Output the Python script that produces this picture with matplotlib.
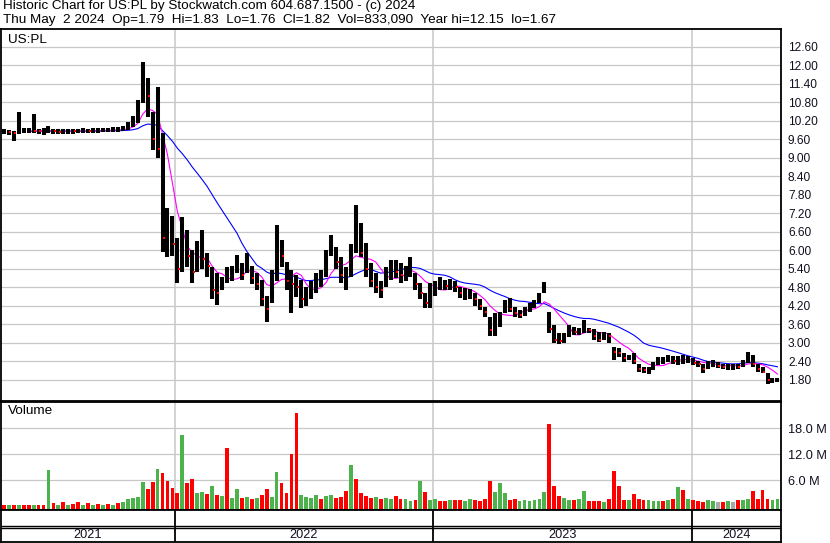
import matplotlib

matplotlib.use("Agg")
import matplotlib.pyplot as plt
import numpy as np
import pandas as pd

plt.rcParams["font.family"] = ["Liberation Sans", "DejaVu Sans"]

W, H = 830, 543

# weekly bars (mid-week dates) -- close / high / low in USD
close = [
    9.86, 9.84, 9.82, 9.86, 9.88, 9.90, 9.88, 9.86, 9.87, 9.88,
    9.86, 9.85, 9.86, 9.87, 9.86, 9.87, 9.88, 9.87, 9.88, 9.89,
    9.90, 9.90, 9.91, 9.92, 9.95, 10.05, 10.25, 10.60, 11.70, 11.00,
    9.60, 9.30, 6.40, 6.60, 6.20, 5.40, 6.30, 5.80, 5.30, 5.90,
    5.70, 5.50, 4.70, 4.60, 5.00, 5.20, 5.30, 5.60, 5.20, 5.60,
    5.10, 4.90, 4.40, 4.10, 4.90, 6.20, 5.80, 5.00, 4.90, 4.80,
    4.40, 4.50, 4.80, 5.00, 5.20, 5.80, 6.20, 5.60, 5.20, 5.30,
    6.00, 6.60, 5.90, 5.40, 5.00, 4.80, 4.70, 5.30, 5.40, 5.30,
    5.20, 5.40, 5.50, 4.90, 4.60, 4.30, 4.70, 4.90, 4.90, 4.85,
    4.90, 4.80, 4.60, 4.60, 4.60, 4.40, 4.20, 4.00, 3.40, 3.70,
    3.90, 4.20, 4.10, 3.95, 3.90, 4.10, 4.20, 4.30, 4.55, 4.90,
    3.45, 3.10, 3.05, 3.20, 3.40, 3.35, 3.40, 3.50, 3.40, 3.20,
    3.10, 3.30, 3.20, 2.70, 2.65, 2.50, 2.55, 2.40, 2.15, 2.10,
    2.10, 2.30, 2.45, 2.45, 2.50, 2.40, 2.45, 2.45, 2.45, 2.35,
    2.30, 2.15, 2.30, 2.35, 2.25, 2.20, 2.20, 2.25, 2.22, 2.40,
    2.55, 2.30, 2.15, 2.05, 1.78, 1.78, 1.82,
]
high = [
    9.92, 9.90, 9.88, 10.47, 9.95, 9.97, 10.42, 9.94, 9.95, 10.03,
    9.93, 9.92, 9.93, 9.94, 9.92, 9.93, 9.95, 9.93, 9.95, 9.96,
    9.97, 9.98, 9.99, 10.00, 10.02, 10.17, 10.34, 10.88, 12.12, 11.60,
    10.50, 11.31, 9.80, 7.37, 7.10, 6.40, 7.09, 6.66, 6.00, 6.30,
    6.66, 5.90, 5.46, 5.26, 5.13, 5.46, 5.50, 5.85, 5.59, 5.90,
    5.50, 5.26, 5.03, 4.50, 5.36, 6.82, 6.33, 5.60, 5.36, 5.20,
    5.03, 4.81, 5.00, 5.26, 5.36, 6.01, 6.50, 6.10, 5.78, 5.46,
    6.20, 7.47, 6.88, 6.23, 5.59, 5.26, 5.00, 5.46, 5.68, 5.68,
    5.59, 5.50, 5.78, 5.26, 4.94, 4.60, 4.94, 5.00, 5.13, 5.03,
    5.05, 5.00, 4.81, 4.78, 4.75, 4.61, 4.40, 4.16, 3.83, 3.96,
    4.00, 4.39, 4.45, 4.16, 4.06, 4.16, 4.30, 4.39, 4.60, 4.97,
    4.00, 3.58, 3.31, 3.31, 3.58, 3.51, 3.48, 3.74, 3.48, 3.45,
    3.35, 3.35, 3.31, 2.86, 2.83, 2.67, 2.60, 2.67, 2.30, 2.20,
    2.20, 2.38, 2.54, 2.54, 2.60, 2.55, 2.55, 2.60, 2.55, 2.49,
    2.40, 2.30, 2.40, 2.43, 2.38, 2.32, 2.32, 2.30, 2.32, 2.45,
    2.68, 2.60, 2.30, 2.20, 2.00, 1.86, 1.86,
]
low = [
    9.76, 9.74, 9.53, 9.78, 9.80, 9.82, 9.80, 9.78, 9.74, 9.80,
    9.76, 9.77, 9.78, 9.78, 9.77, 9.79, 9.80, 9.79, 9.80, 9.82,
    9.83, 9.83, 9.84, 9.85, 9.86, 9.90, 10.01, 10.13, 10.78, 10.33,
    9.25, 9.00, 5.95, 5.78, 5.80, 4.94, 5.30, 5.46, 4.94, 5.30,
    5.40, 5.13, 4.42, 4.23, 4.70, 4.94, 5.00, 5.26, 5.03, 5.26,
    4.90, 4.70, 4.20, 3.68, 4.30, 5.00, 5.46, 4.71, 3.96, 4.48,
    4.13, 4.20, 4.40, 4.60, 4.80, 5.13, 5.80, 5.40, 4.94, 4.71,
    5.13, 5.90, 5.78, 5.13, 4.81, 4.60, 4.45, 4.81, 5.03, 5.10,
    4.94, 5.00, 5.13, 4.71, 4.40, 4.13, 4.13, 4.50, 4.71, 4.70,
    4.72, 4.65, 4.45, 4.39, 4.40, 4.20, 4.06, 3.83, 3.22, 3.20,
    3.50, 3.96, 4.00, 3.83, 3.80, 3.85, 4.00, 4.13, 4.30, 4.60,
    3.31, 3.00, 2.96, 3.00, 3.18, 3.25, 3.25, 3.31, 3.31, 3.10,
    3.02, 3.10, 2.99, 2.44, 2.54, 2.37, 2.44, 2.30, 2.05, 2.00,
    1.98, 2.10, 2.27, 2.32, 2.38, 2.30, 2.27, 2.32, 2.35, 2.27,
    2.20, 2.00, 2.15, 2.22, 2.16, 2.13, 2.11, 2.11, 2.13, 2.20,
    2.35, 2.20, 2.05, 2.00, 1.67, 1.70, 1.72,
]
# weekly volume, millions of shares
volume_m = [
    0.3, 0.4, 0.3, 0.3, 0.4, 0.3, 0.3, 0.4, 0.3, 8.4,
    0.8, 0.4, 1.0, 0.4, 0.5, 0.9, 0.4, 0.8, 0.4, 0.5,
    0.4, 0.5, 0.4, 0.8, 1.0, 1.6, 2.0, 2.2, 5.6, 4.0,
    5.6, 8.6, 7.8, 5.8, 4.2, 3.0, 16.5, 5.4, 6.3, 3.0,
    3.3, 2.8, 4.7, 2.5, 2.3, 13.5, 2.0, 4.0, 2.0, 2.2,
    1.8, 2.0, 2.5, 3.9, 2.2, 7.9, 5.3, 3.0, 12.0, 21.6,
    2.5, 2.2, 2.0, 2.5, 1.8, 2.3, 2.6, 2.0, 2.2, 3.6,
    9.5, 6.3, 3.0, 2.4, 2.0, 2.2, 1.8, 2.0, 1.6, 2.3,
    1.8, 1.6, 1.2, 1.4, 5.8, 3.3, 1.5, 1.8, 1.3, 1.2,
    1.4, 1.5, 1.4, 1.2, 1.8, 1.4, 1.2, 1.6, 5.8, 3.3,
    5.4, 3.0, 1.5, 1.6, 1.3, 1.5, 1.2, 1.4, 1.6, 3.3,
    19.0, 4.7, 2.3, 2.0, 1.5, 1.4, 1.6, 3.6, 1.3, 1.2,
    1.3, 1.1, 1.8, 8.1, 4.7, 1.5, 1.4, 2.9, 1.6, 1.4,
    1.5, 1.3, 1.3, 1.2, 1.4, 1.8, 4.4, 3.7, 1.6, 1.4,
    1.2, 1.0, 1.5, 1.2, 1.1, 1.0, 1.3, 1.1, 1.4, 1.5,
    1.7, 3.5, 1.6, 3.8, 1.8, 1.5, 1.6,
]
# volume bar colour: g = up, r = down, n = unchanged
vol_dir = (
    "rgrgrrgrrg" "rgrgrrgrgr" "grgrgggggr" "rgrrrrgrrg" "grgrgrggrg"
    "rgrrggrrrr" "ggggrggrrr" "grrrrgrggr" "rggrgrggrr" "g"
    "rrggrrrrgg" "grrggggggr" "rrggrggrrr" "grrrrgrrrg" "ggrgrgrgrr"
    "rggnrgnrgg" "rrrrg" "g"
)

price_ticks = np.round(np.arange(1.8, 12.61, 0.6), 2)
volume_ticks = [6, 12, 18]
years = [2021, 2022, 2023, 2024]
header = [
    "Historic Chart for US:PL by Stockwatch.com 604.687.1500 - (c) 2024",
    "Thu May  2 2024  Op=1.79  Hi=1.83  Lo=1.76  Cl=1.82  Vol=833,090  Year hi=12.15  lo=1.67",
]

dates = pd.date_range("2021-05-05", periods=len(close), freq="7D")
x_lo, x_hi = pd.Timestamp("2021-05-01"), pd.Timestamp("2024-05-06")

GRID = "#c8c8c8"
TXT = "#101020"
FS = 8.6      # axis numbers
FS_HEAD = 9.7 # header / panel labels


def rect(x0, y0, x1, y1):
    """pixel box (top-left origin) -> figure fraction rect"""
    return [x0 / W, 1 - y1 / H, (x1 - x0) / W, (y1 - y0) / H]


def frame(ax, lw=1.3):
    for s in ax.spines.values():
        s.set_color("black")
        s.set_linewidth(lw)
    ax.set_xlim(x_lo, x_hi)
    ax.set_xticks([])


fig = plt.figure(figsize=(W / 100, H / 100), dpi=100)
fig.text(3 / W, 1 - 0.5 / H, header[0], fontsize=FS_HEAD, va="top", color="black")
fig.text(3 / W, 1 - 14 / H, header[1], fontsize=FS_HEAD, va="top", color="black")

year_starts = [pd.Timestamp(f"{y}-01-01") for y in years[1:]]

# ---- price panel
ax = fig.add_axes(rect(1, 29, 781, 400.5))
frame(ax)
ax.set_ylim(1.12, 13.18)
for t in price_ticks:
    ax.axhline(t, color=GRID, lw=0.9, zorder=0)
for d in year_starts:
    ax.axvline(d, color=GRID, lw=1.1, zorder=0)
ax.yaxis.tick_right()
ax.set_yticks(price_ticks)
ax.set_yticklabels([f"{t:.2f}" for t in price_ticks])
ax.tick_params(axis="y", length=0, pad=5, labelsize=FS, labelcolor=TXT)

s = pd.Series(close, index=dates)
ax.plot(dates, s.rolling(20, min_periods=6).mean(), color="#0000ff", lw=0.8, zorder=2)
ax.plot(dates, s.rolling(6, min_periods=6).mean(), color="#ff00ff", lw=0.8, zorder=3)
ax.vlines(dates, low, high, color="black", lw=2.9, zorder=4)
down = s.diff() < 0
ax.plot(dates[down] + pd.Timedelta(days=2), s[down], "s", color="red", ms=1.7, mew=0, zorder=5)
fig.text(8 / W, 1 - 34 / H, "US:PL", fontsize=FS_HEAD, va="top", color="black")

# ---- volume panel
av = fig.add_axes(rect(1, 402, 781, 510))
frame(av)
v_lo, v_hi = -0.85, 24.07
av.set_ylim(v_lo, v_hi)
for t in volume_ticks:
    av.axhline(t, color=GRID, lw=0.9, zorder=0)
for d in year_starts:
    av.axvline(d, color=GRID, lw=1.1, zorder=0)
colors = {"g": "#4cb34c", "r": "#ff0000", "n": "#a8a8a8"}
av.bar(dates, np.array(volume_m) - v_lo, bottom=v_lo, width=5.4,
       color=[colors[c] for c in vol_dir], zorder=2)
av.yaxis.tick_right()
av.set_yticks(volume_ticks)
av.set_yticklabels([f"{t:.1f} M" for t in volume_ticks])
av.tick_params(axis="y", length=0, pad=5, labelsize=9.2, labelcolor=TXT)
fig.text(8 / W, 1 - 405 / H, "Volume", fontsize=FS_HEAD, va="top", color="black")

# ---- date strip
ad = fig.add_axes(rect(1, 510, 781, 541.5))
frame(ad)
ad.set_ylim(0, 1)
ad.set_yticks([])
ad.axhline(0.495, color="black", lw=1.0)
ad.axhline(0.44, color="black", lw=1.0)
for d in year_starts:
    ad.axvline(d, color="black", lw=1.3)
for y in years:
    a = max(pd.Timestamp(f"{y}-01-01"), x_lo)
    b = min(pd.Timestamp(f"{y + 1}-01-01"), x_hi)
    ad.text(a + (b - a) / 2, 0.2, str(y), ha="center", va="center", fontsize=9.2, color=TXT)

fig.savefig("out.png", dpi=100)
